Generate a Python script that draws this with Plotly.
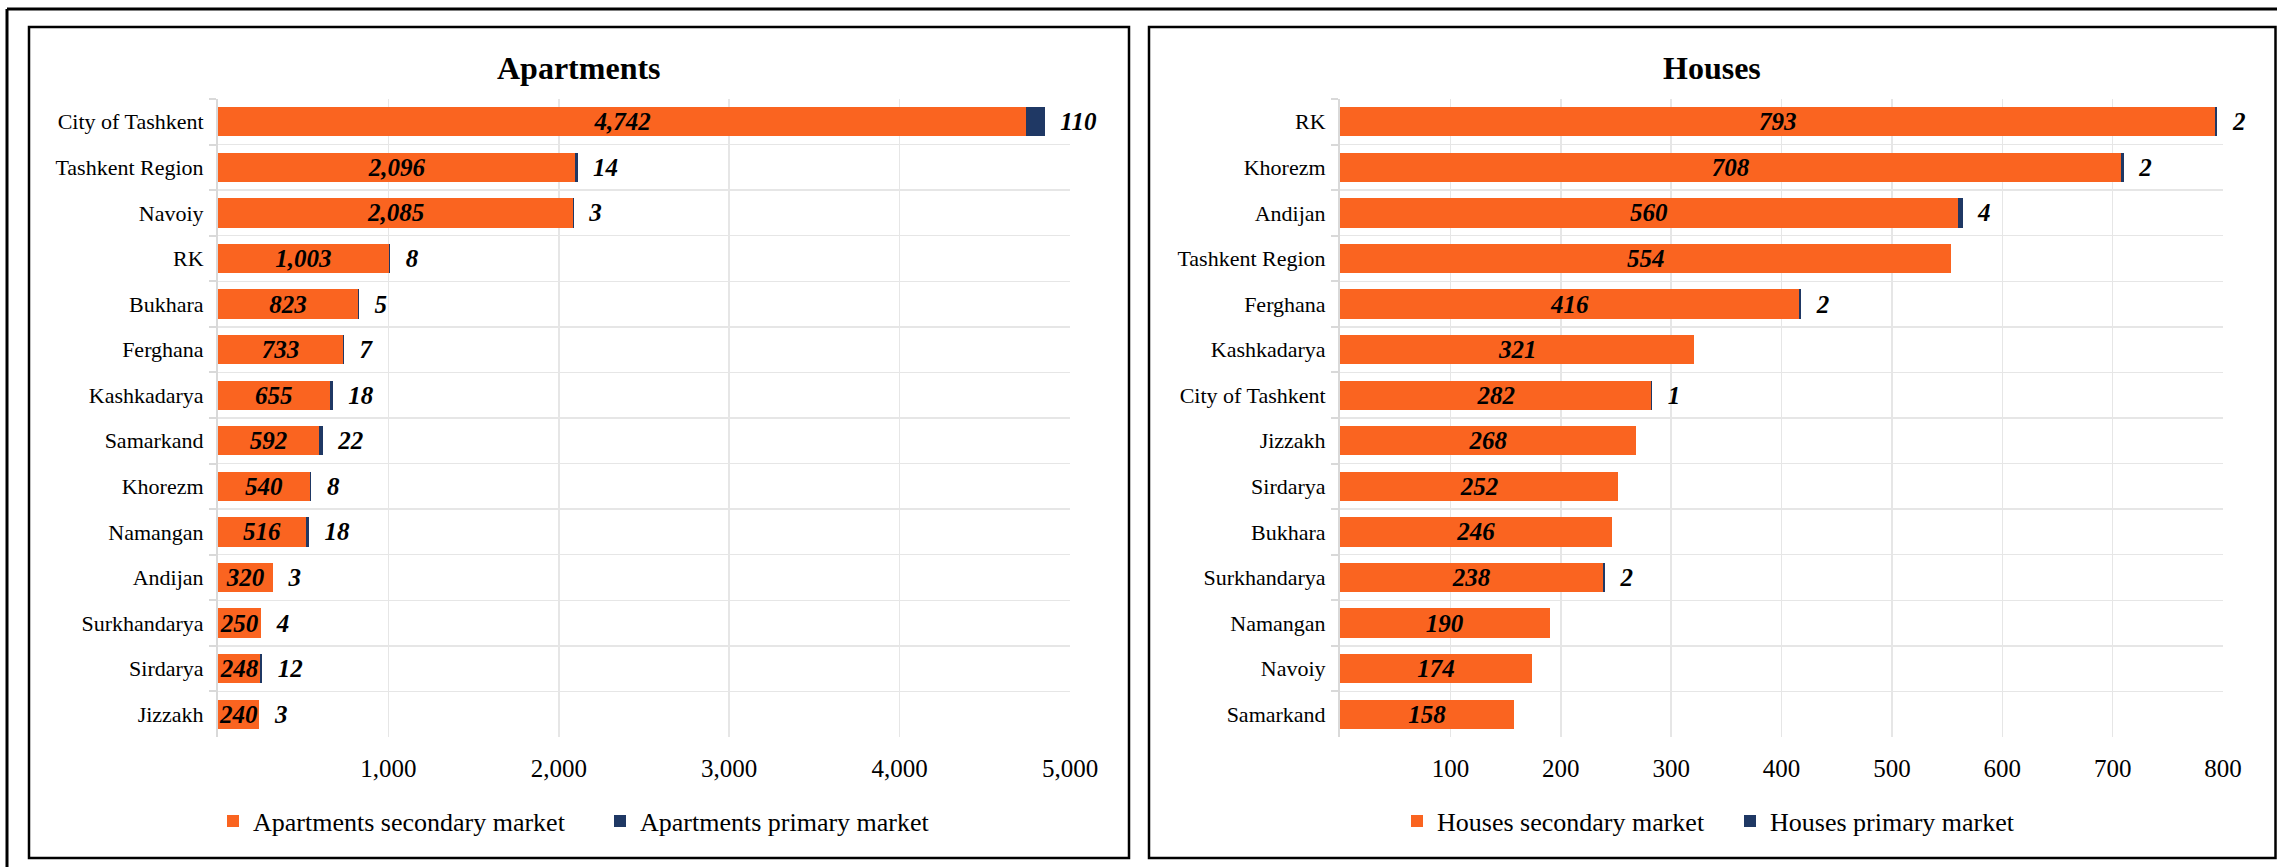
import plotly.graph_objects as go

W, H = 2277, 867
FONT = "Liberation Serif"

# ---------------- data ----------------
apt_regions = ["City of Tashkent", "Tashkent Region", "Navoiy", "RK", "Bukhara", "Ferghana",
               "Kashkadarya", "Samarkand", "Khorezm", "Namangan", "Andijan", "Surkhandarya",
               "Sirdarya", "Jizzakh"]
apt_secondary = [4742, 2096, 2085, 1003, 823, 733, 655, 592, 540, 516, 320, 250, 248, 240]
apt_primary = [110, 14, 3, 8, 5, 7, 18, 22, 8, 18, 3, 4, 12, 3]

house_regions = ["RK", "Khorezm", "Andijan", "Tashkent Region", "Ferghana", "Kashkadarya",
                 "City of Tashkent", "Jizzakh", "Sirdarya", "Bukhara", "Surkhandarya",
                 "Namangan", "Navoiy", "Samarkand"]
house_secondary = [793, 708, 560, 554, 416, 321, 282, 268, 252, 246, 238, 190, 174, 158]
house_primary = [2, 2, 4, None, 2, None, 1, None, None, None, 2, None, None, None]

apt_ticks = [1000, 2000, 3000, 4000, 5000]
apt_ticktext = ["1,000", "2,000", "3,000", "4,000", "5,000"]
house_ticks = [100, 200, 300, 400, 500, 600, 700, 800]
house_ticktext = ["100", "200", "300", "400", "500", "600", "700", "800"]

ORANGE = "#FA6420"
NAVY = "#1F3864"


def px(x):
    return x / W


def py(y):
    return 1 - y / H


label_font = dict(family=FONT, size=25, color="black", weight="bold", style="italic")

fig = go.Figure()

fig.add_trace(go.Bar(
    y=apt_regions, x=apt_secondary, orientation="h", name="Apartments secondary market",
    marker=dict(color=ORANGE, line=dict(width=0)), texttemplate="%{x:,}", textposition="inside",
    insidetextanchor="middle", textangle=0, constraintext="none", textfont=label_font,
    cliponaxis=False, xaxis="x", yaxis="y", legend="legend", hoverinfo="skip"))
fig.add_trace(go.Bar(
    y=apt_regions, x=apt_primary, orientation="h", name="Apartments primary market",
    marker=dict(color=NAVY, line=dict(width=0)), texttemplate="\u00a0\u00a0%{x}",
    textposition="outside", textangle=0, constraintext="none", textfont=label_font,
    cliponaxis=False, xaxis="x", yaxis="y", legend="legend", hoverinfo="skip"))

fig.add_trace(go.Bar(
    y=house_regions, x=house_secondary, orientation="h", name="Houses secondary market",
    marker=dict(color=ORANGE, line=dict(width=0)), texttemplate="%{x:,}", textposition="inside",
    insidetextanchor="middle", textangle=0, constraintext="none", textfont=label_font,
    cliponaxis=False, xaxis="x2", yaxis="y2", legend="legend2", hoverinfo="skip"))
fig.add_trace(go.Bar(
    y=house_regions, x=house_primary, orientation="h", name="Houses primary market",
    marker=dict(color=NAVY, line=dict(width=0)), texttemplate="\u00a0\u00a0%{x}",
    textposition="outside", textangle=0, constraintext="none", textfont=label_font,
    cliponaxis=False, xaxis="x2", yaxis="y2", legend="legend2", hoverinfo="skip"))

GRID = "#E6E6E6"
AXL = "#D9D9D9"
ydom = [py(737), py(99)]

common_x = dict(showgrid=True, gridcolor=GRID, gridwidth=1.5, zeroline=False, showline=False,
                ticks="", tickfont=dict(family=FONT, size=25, color="black"),
                ticklabelstandoff=14, fixedrange=True, automargin=False)
common_y = dict(autorange="reversed", type="category", tickson="boundaries", showgrid=True,
                gridcolor=GRID, gridwidth=1.5, showline=True, linecolor=AXL, linewidth=2,
                ticks="outside", ticklen=7, tickcolor=AXL, tickwidth=2,
                tickfont=dict(family=FONT, size=22, color="black"), ticklabelstandoff=8,
                fixedrange=True, automargin=False)

fig.update_layout(
    width=W, height=H, margin=dict(l=0, r=0, t=0, b=0, pad=0, autoexpand=False),
    paper_bgcolor="white", plot_bgcolor="white",
    barmode="stack", bargap=0.36,
    font=dict(family=FONT, color="black"),
    xaxis=dict(domain=[px(218), px(1070)], range=[0, 5000], tickvals=apt_ticks,
               ticktext=apt_ticktext, anchor="y", **common_x),
    yaxis=dict(domain=ydom, anchor="x", **common_y),
    xaxis2=dict(domain=[px(1340), px(2223)], range=[0, 800], tickvals=house_ticks,
                ticktext=house_ticktext, anchor="y2", **common_x),
    yaxis2=dict(domain=ydom, anchor="x2", **common_y),
    legend=dict(orientation="h", x=px(600), y=py(821), xanchor="center", yanchor="middle",
                font=dict(family=FONT, size=26, color="black"), bgcolor="rgba(0,0,0,0)",
                entrywidth=342, entrywidthmode="pixels",
                itemclick=False, itemdoubleclick=False, traceorder="normal"),
    legend2=dict(orientation="h", x=px(1730), y=py(821), xanchor="center", yanchor="middle",
                 font=dict(family=FONT, size=26, color="black"), bgcolor="rgba(0,0,0,0)",
                 entrywidth=288, entrywidthmode="pixels",
                 itemclick=False, itemdoubleclick=False, traceorder="normal"),
    annotations=[
        dict(text="<b>Apartments</b>", x=px(579), y=py(68), xref="paper", yref="paper",
             showarrow=False, xanchor="center", yanchor="middle",
             font=dict(family=FONT, size=32, color="black")),
        dict(text="<b>Houses</b>", x=px(1712), y=py(68), xref="paper", yref="paper",
             showarrow=False, xanchor="center", yanchor="middle",
             font=dict(family=FONT, size=32, color="black")),
    ],
    shapes=[
        # outer frame (only top and left edges fall inside the picture)
        dict(type="line", xref="paper", yref="paper", x0=px(7), x1=1, y0=py(9), y1=py(9),
             line=dict(color="black", width=3), layer="below"),
        dict(type="line", xref="paper", yref="paper", x0=px(7), x1=px(7), y0=0, y1=py(9),
             line=dict(color="black", width=3), layer="below"),
        dict(type="rect", xref="paper", yref="paper", x0=px(29), x1=px(1129), y0=py(858), y1=py(27),
             line=dict(color="black", width=2.5), fillcolor="rgba(0,0,0,0)", layer="below"),
        dict(type="rect", xref="paper", yref="paper", x0=px(1149), x1=px(2275.5), y0=py(858), y1=py(27),
             line=dict(color="black", width=2.5), fillcolor="rgba(0,0,0,0)", layer="below"),
    ],
)

fig.write_html("out.html", config={"displayModeBar": False, "staticPlot": True},
               post_script="document.body.style.margin='0';")
